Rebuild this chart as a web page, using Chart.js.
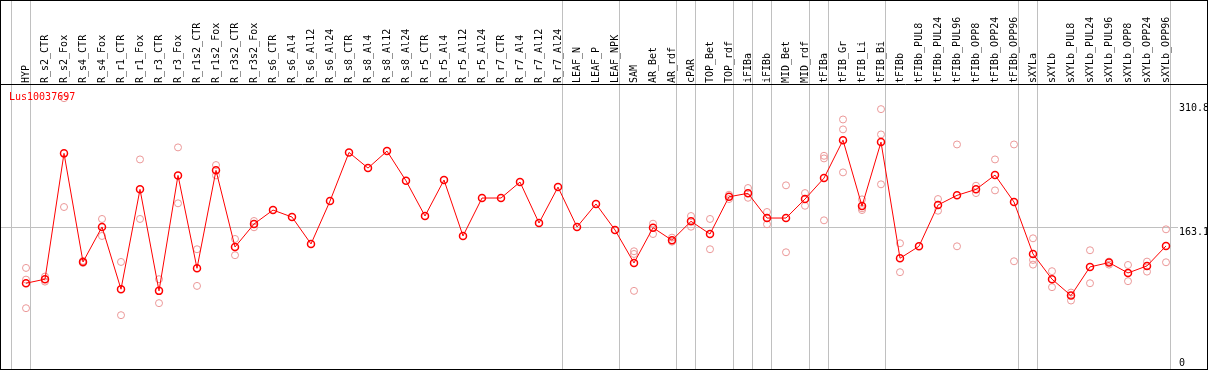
<!DOCTYPE html>
<html>
<head>
<meta charset="utf-8">
<script src="https://cdn.jsdelivr.net/npm/chart.js@4.4.0/dist/chart.umd.min.js"></script>
<style>
  html, body { margin: 0; padding: 0; background: #fff; }
  #frame { position: relative; width: 1206px; height: 368px; border: 1px solid #000; }
  #gene { position: absolute; left: 8px; top: 90px; font: 10px/12px "DejaVu Sans Mono", monospace; color: #f00; }
</style>
</head>
<body>
<div id="frame">
  <canvas id="expr" width="1206" height="368"></canvas>
  <div id="gene">Lus10037697</div>
</div>
<script>
const _ = null;

const samples = ['HYP', 'R_s2_CTR', 'R_s2_Fox', 'R_s4_CTR', 'R_s4_Fox', 'R_r1_CTR', 'R_r1_Fox', 'R_r3_CTR', 'R_r3_Fox',
  'R_r1s2_CTR', 'R_r1s2_Fox', 'R_r3s2_CTR', 'R_r3s2_Fox', 'R_s6_CTR', 'R_s6_Al4', 'R_s6_Al12', 'R_s6_Al24',
  'R_s8_CTR', 'R_s8_Al4', 'R_s8_Al12', 'R_s8_Al24', 'R_r5_CTR', 'R_r5_Al4', 'R_r5_Al12', 'R_r5_Al24',
  'R_r7_CTR', 'R_r7_Al4', 'R_r7_Al12', 'R_r7_Al24', 'LEAF_N', 'LEAF_P', 'LEAF_NPK', 'SAM', 'AR_Bet', 'AR_rdf',
  'cPAR', 'TOP_Bet', 'TOP_rdf', 'iFIBa', 'iFIBb', 'MID_Bet', 'MID_rdf', 'tFIBa', 'tFIB_Gr', 'tFIB_Li', 'tFIB_Bi',
  'tFIBb', 'tFIBb_PUL8', 'tFIBb_PUL24', 'tFIBb_PUL96', 'tFIBb_OPP8', 'tFIBb_OPP24', 'tFIBb_OPP96',
  'sXYLa', 'sXYLb', 'sXYLb_PUL8', 'sXYLb_PUL24', 'sXYLb_PUL96', 'sXYLb_OPP8', 'sXYLb_OPP24', 'sXYLb_OPP96'];

// mean expression per sample
const meanValues = [97.1, 101.9, 251.5, 122.4, 164.0, 90.0, 208.7, 88.0, 225.3, 114.9, 231.3, 140.2, 167.5,
  184.1, 175.8, 143.8, 194.8, 252.6, 234.0, 254.2, 218.9, 177.0, 219.8, 153.3, 198.4, 198.4, 217.4, 168.7, 211.4,
  164.0, 191.3, 160.4, 121.2, 163.1, 148.2, 170.7, 155.6, 199.9, 204.0, 174.6, 174.6, 197.2, 222.1, 267.2, 188.9,
  264.9, 126.8, 141.0, 190.1, 201.6, 208.7, 225.7, 193.6, 131.9, 101.9, 82.4, 116.5, 121.6, 109.3, 117.7, 141.4];

// single replicates
const rep1 = [115.3, 105.0, 317.1, 123.6, 173.5, 122.4, 244.3, 101.9, 258.6, 137.5, 237.6, 149.7, 171.1,
  _, _, _, _, _, _, _, _, _, _, _, _, _, _, _, _, _, _, _,
  135.1, 167.9, 151.3, 177.0, 173.5, 202.3, 210.3, 181.8, 213.5, 204.3, 248.6, 291.8, 196.8, 304.1, 144.6,
  _, 197.2, 262.1, 213.0, 244.3, 262.1, 150.5, 111.4, 86.0, 136.3, 122.8, 118.8, 122.8, 161.2];
const rep2 = [101.4, 99.0, 187.7, 121.2, 153.3, 59.1, 173.5, 73.4, 192.1, 93.9, 225.3, 130.4, 163.6,
  _, _, _, _, _, _, _, _, _, _, _, _, _, _, _, _, _, _, _,
  131.9, 155.6, 146.5, 164.3, 137.5, 197.2, 198.7, 167.2, 133.9, 189.2, 245.5, 280.0, 186.2, 274.0, 110.2,
  _, 183.3, 141.0, 204.3, 207.5, 123.2, 124.8, 92.4, 76.5, 97.1, 119.2, 99.5, 110.9, 122.0];
const rep3 = [67.4, _, _, _, _, _, _, _, _, _, _, _, _,
  _, _, _, _, _, _, _, _, _, _, _, _, _, _, _, _, _, _, _,
  88.0, _, _, _, _, _, _, _, _, _, 171.9, 228.9, 184.1, 214.7, _,
  _, _, _, _, _, _, 119.2, _, _, _, _, _, _, _];

// sample groups end after these indices
const groupEnds = [-1, 0, 28, 31, 34, 35, 37, 38, 39, 41, 42, 45, 52, 53, 60];
const yTickValues = [0, 163.1, 310.8];
const yGridValue = 163.1;

const FONT = { family: 'DejaVu Sans Mono', size: 10 };
const xMin = -25 / 19, xMax = 1152 / 19;
const yMin = -4.9, yMax = 332.8;

const meanPoints = meanValues.map((v, i) => ({ x: i, y: v }));
const repPoints = [];
[rep1, rep2, rep3].forEach(r => r.forEach((v, i) => { if (v !== null) repPoints.push({ x: i, y: v }); }));

function noPad(s) {
  s.paddingLeft = 0; s.paddingRight = 0; s.paddingTop = 0; s.paddingBottom = 0;
}

// black rule under the sample names, across the whole width
const headerRule = {
  id: 'headerRule',
  afterDraw(chart) {
    const ctx = chart.ctx;
    const y = Math.round(chart.chartArea.top) - 0.5;
    ctx.save();
    ctx.strokeStyle = '#000';
    ctx.lineWidth = 1;
    ctx.beginPath();
    ctx.moveTo(0, y);
    ctx.lineTo(chart.width, y);
    ctx.stroke();
    ctx.restore();
  }
};

new Chart(document.getElementById('expr'), {
  type: 'line',
  data: {
    datasets: [
      {
        data: meanPoints,
        borderColor: '#ff0000',
        borderWidth: 1,
        pointRadius: 3.5,
        pointBorderWidth: 1.5,
        pointBorderColor: '#ff0000',
        pointBackgroundColor: 'rgba(0,0,0,0)',
        tension: 0
      },
      {
        data: repPoints,
        showLine: false,
        pointRadius: 3.5,
        pointBorderWidth: 1,
        pointBorderColor: '#eb9898',
        pointBackgroundColor: 'rgba(0,0,0,0)'
      }
    ]
  },
  options: {
    responsive: false,
    animation: false,
    devicePixelRatio: 1,
    layout: { padding: 0, autoPadding: false },
    plugins: { legend: { display: false }, tooltip: { enabled: false } },
    scales: {
      x: {
        type: 'linear', position: 'top', min: xMin, max: xMax, weight: 1,
        afterBuildTicks: s => { s.ticks = samples.map((n, i) => ({ value: i })); },
        afterFit: s => { s.height = 84; noPad(s); },
        grid: { display: false, drawTicks: false },
        border: { display: false },
        ticks: {
          autoSkip: false, minRotation: 90, maxRotation: 90, padding: 2, labelOffset: 12,
          color: '#000', font: FONT,
          callback: v => samples[v]
        }
      },
      sep: {
        type: 'linear', position: 'top', min: xMin, max: xMax, weight: 0,
        afterBuildTicks: s => { s.ticks = groupEnds.map(i => ({ value: i + 0.237 })); },
        afterFit: s => { s.height = 0; noPad(s); },
        grid: { color: '#c0c0c0', lineWidth: 1, drawTicks: true, tickLength: 84 },
        border: { display: false },
        ticks: { display: false }
      },
      y: {
        type: 'linear', position: 'right', min: yMin, max: yMax,
        afterBuildTicks: s => { s.ticks = yTickValues.map(v => ({ value: v })); },
        afterFit: s => { s.width = 29; noPad(s); },
        grid: {
          drawTicks: false,
          color: c => (c.tick && c.tick.value === yGridValue) ? '#c0c0c0' : 'rgba(0,0,0,0)'
        },
        border: { display: false },
        ticks: {
          align: 'start', crossAlign: 'near', padding: 1, color: '#000', font: FONT,
          // the bottom label sits above its value so it stays inside the frame
          callback: v => v === 0 ? ['0', ''] : String(v)
        }
      }
    }
  },
  plugins: [headerRule]
});
</script>
</body>
</html>
